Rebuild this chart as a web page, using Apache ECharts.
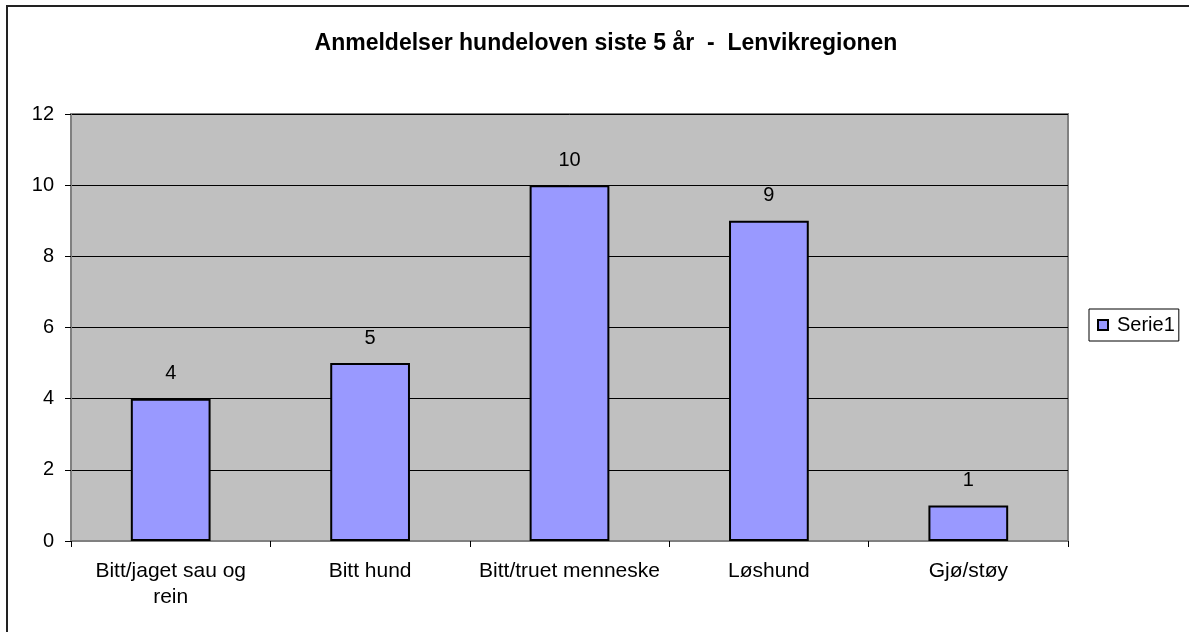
<!DOCTYPE html>
<html>
<head>
<meta charset="utf-8">
<script src="https://cdn.jsdelivr.net/npm/echarts@6/dist/echarts.min.js"></script>
<style>
  html, body { margin: 0; padding: 0; background: #fff; }
  #chart { width: 1189px; height: 632px; }
</style>
</head>
<body>
<div id="chart"></div>
<script>
const categories = ['Bitt/jaget sau og\nrein', 'Bitt hund', 'Bitt/truet menneske', 'Løshund', 'Gjø/støy'];
const serie1 = [4, 5, 10, 9, 1];

const chart = echarts.init(document.getElementById('chart'));
const font = 'Arial, "Liberation Sans", sans-serif';

const option = {
  backgroundColor: '#fff',
  animation: false,
  textStyle: { fontFamily: font },
  title: {
    text: 'Anmeldelser hundeloven siste 5 år  -  Lenvikregionen',
    left: 601,
    textAlign: 'center',
    top: 27,
    textStyle: { fontSize: 23, fontWeight: 'bold', color: '#000', fontFamily: font }
  },
  graphic: [{
    type: 'rect',
    shape: { x: 7, y: 6, width: 1300, height: 700 },
    style: { fill: 'none', stroke: '#222', lineWidth: 2 },
    silent: true
  }],
  legend: {
    left: 1089,
    top: 309,
    padding: [6, 4, 6, 8],
    borderColor: '#000',
    borderWidth: 1,
    backgroundColor: '#fff',
    icon: 'rect',
    itemWidth: 10,
    itemHeight: 10,
    itemGap: 4,
    textStyle: { fontSize: 20, color: '#000', fontFamily: font, padding: [0, 0, 0, 4] },
    data: ['Serie1']
  },
  grid: {
    left: 71,
    right: 121,
    top: 114,
    bottom: 91,
    show: true,
    backgroundColor: '#C0C0C0',
    borderColor: '#808080',
    borderWidth: 2
  },
  xAxis: {
    type: 'category',
    data: categories,
    axisLine: { lineStyle: { color: '#808080', width: 2 } },
    axisTick: { show: true, length: 6, lineStyle: { color: '#000' } },
    axisLabel: {
      color: '#000',
      fontSize: 21,
      margin: 17,
      lineHeight: 26,
      interval: 0,
      fontFamily: font
    }
  },
  yAxis: {
    type: 'value',
    min: 0,
    max: 12,
    interval: 2,
    axisLine: { show: true, lineStyle: { color: '#808080', width: 2 } },
    axisTick: { show: true, length: 6, lineStyle: { color: '#000' } },
    axisLabel: { color: '#000', fontSize: 20, margin: 17, fontFamily: font },
    splitLine: { show: true, lineStyle: { color: '#000', width: 1 } }
  },
  series: [{
    name: 'Serie1',
    type: 'bar',
    data: serie1,
    barWidth: '40%',
    itemStyle: { color: '#9999FF', borderColor: '#000', borderWidth: 2 },
    label: {
      show: true,
      position: 'top',
      distance: 15,
      color: '#000',
      fontSize: 20,
      fontFamily: font
    }
  }]
};

chart.setOption(option);
</script>
</body>
</html>
